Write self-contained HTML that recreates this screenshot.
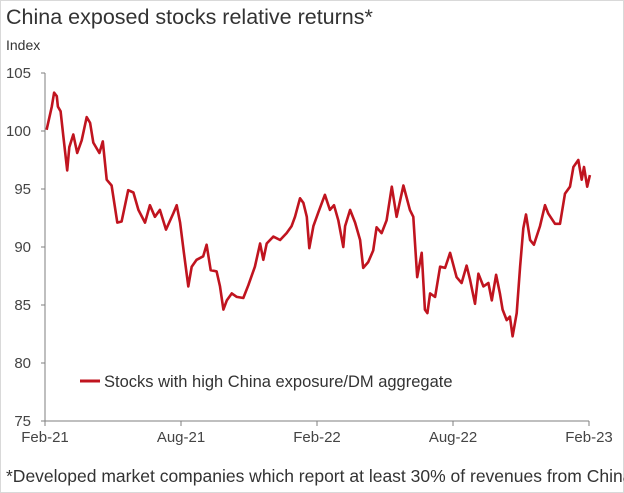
<!DOCTYPE html>
<html><head><meta charset="utf-8"><style>
html,body{margin:0;padding:0;background:#fff;}
svg{display:block;font-family:"Liberation Sans",sans-serif;}
</style></head><body>
<svg id="chart" width="624" height="493" viewBox="0 0 624 493">
<rect x="0.5" y="0.5" width="623" height="492" fill="#fff" stroke="#d9d9d9"/>
<text x="6" y="24" font-size="21.5" fill="#333">China exposed stocks relative returns*</text>
<text x="6" y="50" font-size="14" fill="#333">Index</text>
<g id="yaxis"></g>
<g id="xaxis"></g>
<path id="line" fill="none" stroke="#c0141f" stroke-width="2.6" stroke-linejoin="round"/>
<g>
<line x1="80" y1="381" x2="100" y2="381" stroke="#c0141f" stroke-width="3"/>
<text x="104" y="387" font-size="16.5" fill="#333">Stocks with high China exposure/DM aggregate</text>
</g>
<text x="6" y="482" font-size="17.5" fill="#333">*Developed market companies which report at least 30% of revenues from China</text>
</svg>
<script>
const yTicks=[75,80,85,90,95,100,105];
const xTickMonths=[0,6,12,18,24];
const xTickLabels=["Feb-21","Aug-21","Feb-22","Aug-22","Feb-23"];
const months=[0.07,0.30,0.40,0.52,0.57,0.69,0.81,0.98,1.07,1.25,1.42,1.62,1.84,1.99,2.13,2.40,2.55,2.72,2.94,3.19,3.38,3.67,3.90,4.12,4.41,4.63,4.85,5.07,5.34,5.66,5.81,5.96,6.13,6.32,6.47,6.69,6.98,7.13,7.31,7.57,7.72,7.87,8.02,8.24,8.46,8.75,8.97,9.26,9.49,9.63,9.78,10.07,10.37,10.66,10.88,11.03,11.25,11.40,11.55,11.66,11.84,12.06,12.35,12.57,12.75,12.94,13.16,13.24,13.46,13.68,13.90,14.04,14.26,14.48,14.63,14.85,15.07,15.30,15.51,15.81,16.10,16.25,16.42,16.62,16.76,16.87,16.99,17.21,17.43,17.65,17.87,18.16,18.38,18.60,18.75,18.97,19.12,19.34,19.56,19.71,19.90,20.07,20.19,20.37,20.51,20.63,20.81,20.96,21.10,21.22,21.40,21.57,21.84,22.06,22.20,22.50,22.72,22.94,23.16,23.31,23.53,23.68,23.78,23.92,24.04];
const values=[100.1,102.1,103.3,103.0,102.1,101.7,99.5,96.6,98.6,99.7,98.1,99.2,101.2,100.7,99.0,98.1,99.1,95.8,95.3,92.1,92.2,94.9,94.7,93.2,92.1,93.6,92.6,93.2,91.5,92.9,93.6,92.1,89.5,86.6,88.3,88.9,89.2,90.2,88.0,87.9,86.6,84.6,85.4,86.0,85.7,85.6,86.7,88.3,90.3,88.9,90.3,90.9,90.6,91.2,91.8,92.6,94.2,93.8,92.6,89.9,91.8,93.0,94.5,93.2,93.6,92.3,90.0,91.8,93.2,92.1,90.6,88.2,88.7,89.7,91.7,91.2,92.3,95.2,92.6,95.3,93.2,92.6,87.4,89.5,84.6,84.3,86.0,85.7,88.3,88.2,89.5,87.4,86.9,88.4,87.2,85.1,87.7,86.6,86.9,85.4,87.6,86.0,84.6,83.7,84.0,82.3,84.3,88.3,91.6,92.8,90.6,90.2,91.8,93.6,92.9,92.0,92.0,94.6,95.2,96.9,97.5,95.8,96.9,95.2,96.2];
const L=45,R=589,T=73,B=421;
const x=m=>L+(m-0)/24*(R-L);
const y=v=>B-(v-75)/30*(B-T);
const NS="http://www.w3.org/2000/svg";
const ya=document.getElementById('yaxis'),xa=document.getElementById('xaxis');
let ax=document.createElementNS(NS,'line');
ax.setAttribute('x1',L);ax.setAttribute('x2',L);ax.setAttribute('y1',T);ax.setAttribute('y2',B);ax.setAttribute('stroke','#7f7f7f');


ya.appendChild(ax);
yTicks.forEach(v=>{
 const t=document.createElementNS(NS,'line');
 t.setAttribute('x1',L-4);t.setAttribute('x2',L);t.setAttribute('y1',y(v));t.setAttribute('y2',y(v));t.setAttribute('stroke','#7f7f7f');
 
 
 ya.appendChild(t);
 const tx=document.createElementNS(NS,'text');
 tx.setAttribute('x',L-14);tx.setAttribute('y',y(v)+5);tx.setAttribute('text-anchor','end');tx.setAttribute('font-size','15');tx.setAttribute('fill','#444');
 tx.textContent=v;
 
 
 ya.appendChild(tx);
});
let bx=document.createElementNS(NS,'line');
bx.setAttribute('x1',L);bx.setAttribute('x2',R);bx.setAttribute('y1',B);bx.setAttribute('y2',B);bx.setAttribute('stroke','#7f7f7f');


xa.appendChild(bx);
xTickMonths.forEach((m,i)=>{
 const t=document.createElementNS(NS,'line');
 t.setAttribute('x1',x(m));t.setAttribute('x2',x(m));t.setAttribute('y1',B);t.setAttribute('y2',B+5);t.setAttribute('stroke','#7f7f7f');
 
 
 xa.appendChild(t);
 const tx=document.createElementNS(NS,'text');
 tx.setAttribute('x',x(m));tx.setAttribute('y',B+21);tx.setAttribute('text-anchor','middle');tx.setAttribute('font-size','15');tx.setAttribute('fill','#444');
 tx.textContent=xTickLabels[i];
 
 
 xa.appendChild(tx);
});
document.getElementById('line').setAttribute('d',months.map((m,i)=>(i?'L':'M')+x(m).toFixed(1)+','+y(values[i]).toFixed(1)).join(''));
</script>
</body></html>
